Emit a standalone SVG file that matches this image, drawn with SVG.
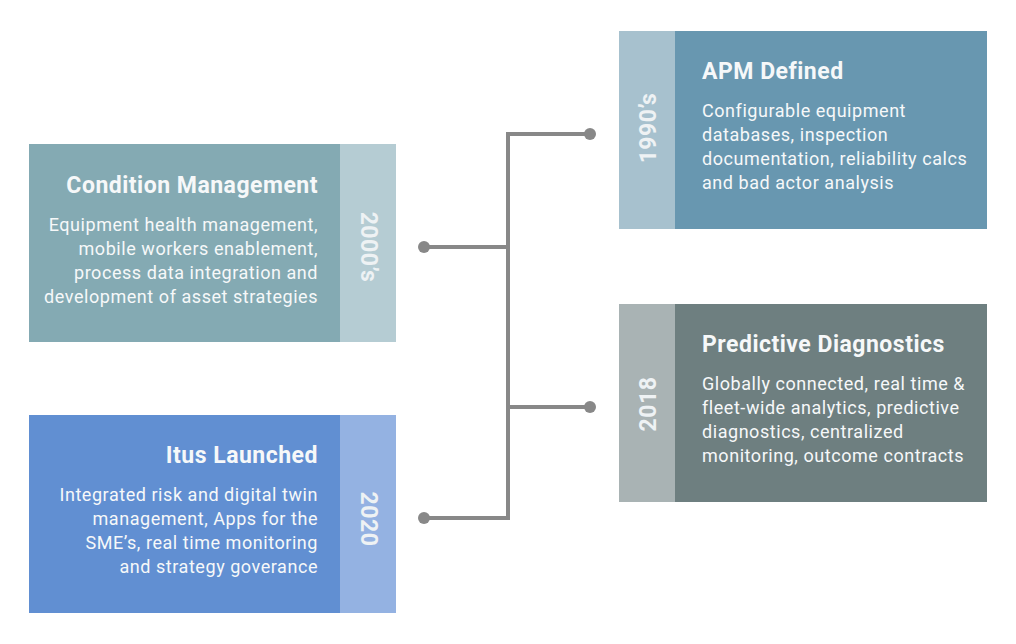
<svg xmlns="http://www.w3.org/2000/svg" width="1016" height="644" viewBox="0 0 1016 644">
<style>
.t{font-family:Roboto,"Liberation Sans",sans-serif;font-weight:bold;font-size:23px;letter-spacing:0.5px;fill:#f6f8f9}
.b{font-family:Roboto,"Liberation Sans",sans-serif;font-size:18px;letter-spacing:0.55px;fill:#f6f8f9}
.y{font-family:Roboto,"Liberation Sans",sans-serif;font-weight:bold;font-size:23px;letter-spacing:0.5px;fill:#eef2f4;text-anchor:middle;dominant-baseline:central}
.r{text-anchor:end}
.c{stroke:#888;stroke-width:4;fill:none}
.d{fill:#888}
</style>
<rect width="1016" height="644" fill="#fff"/>
<g id="connectors">
<polyline class="c" points="590,134 508,134 508,518 424,518"/>
<line class="c" x1="424" y1="247" x2="508" y2="247"/>
<line class="c" x1="508" y1="407" x2="590" y2="407"/>
<circle class="d" cx="590" cy="134" r="6"/>
<circle class="d" cx="590" cy="407" r="6"/>
<circle class="d" cx="424" cy="247" r="6"/>
<circle class="d" cx="424" cy="518" r="6"/>
</g>
<g id="apm">
<rect x="619" y="31" width="368" height="198" fill="#6897b0"/>
<rect x="619" y="31" width="56" height="198" fill="#a7c1ce"/>
<text class="y" transform="translate(648,128) rotate(-90)">1990’s</text>
<text class="t" x="702" y="79">APM Defined</text>
<text class="b" x="702" y="117">Configurable equipment</text>
<text class="b" x="702" y="141">databases, inspection</text>
<text class="b" x="702" y="165">documentation, reliability calcs</text>
<text class="b" x="702" y="189">and bad actor analysis</text>
</g>
<g id="condition">
<rect x="29" y="144" width="367" height="198" fill="#84aab3"/>
<rect x="340" y="144" width="56" height="198" fill="#b5ccd3"/>
<text class="y" transform="translate(368,247) rotate(90)">2000’s</text>
<text class="t r" x="318" y="193">Condition Management</text>
<text class="b r" x="318" y="231">Equipment health management,</text>
<text class="b r" x="318" y="255">mobile workers enablement,</text>
<text class="b r" x="318" y="279">process data integration and</text>
<text class="b r" x="318" y="303">development of asset strategies</text>
</g>
<g id="predictive">
<rect x="619" y="304" width="368" height="198" fill="#6e7f80"/>
<rect x="619" y="304" width="56" height="198" fill="#a9b3b4"/>
<text class="y" transform="translate(648,404) rotate(-90)">2018</text>
<text class="t" x="702" y="352">Predictive Diagnostics</text>
<text class="b" x="702" y="390">Globally connected, real time &amp;</text>
<text class="b" x="702" y="414">fleet-wide analytics, predictive</text>
<text class="b" x="702" y="438">diagnostics, centralized</text>
<text class="b" x="702" y="462">monitoring, outcome contracts</text>
</g>
<g id="itus">
<rect x="29" y="415" width="367" height="198" fill="#618fd2"/>
<rect x="340" y="415" width="56" height="198" fill="#94b2e2"/>
<text class="y" transform="translate(368,519) rotate(90)">2020</text>
<text class="t r" x="318" y="463">Itus Launched</text>
<text class="b r" x="318" y="501">Integrated risk and digital twin</text>
<text class="b r" x="318" y="525">management, Apps for the</text>
<text class="b r" x="318" y="549">SME’s, real time monitoring</text>
<text class="b r" x="318" y="573">and strategy goverance</text>
</g>
</svg>
